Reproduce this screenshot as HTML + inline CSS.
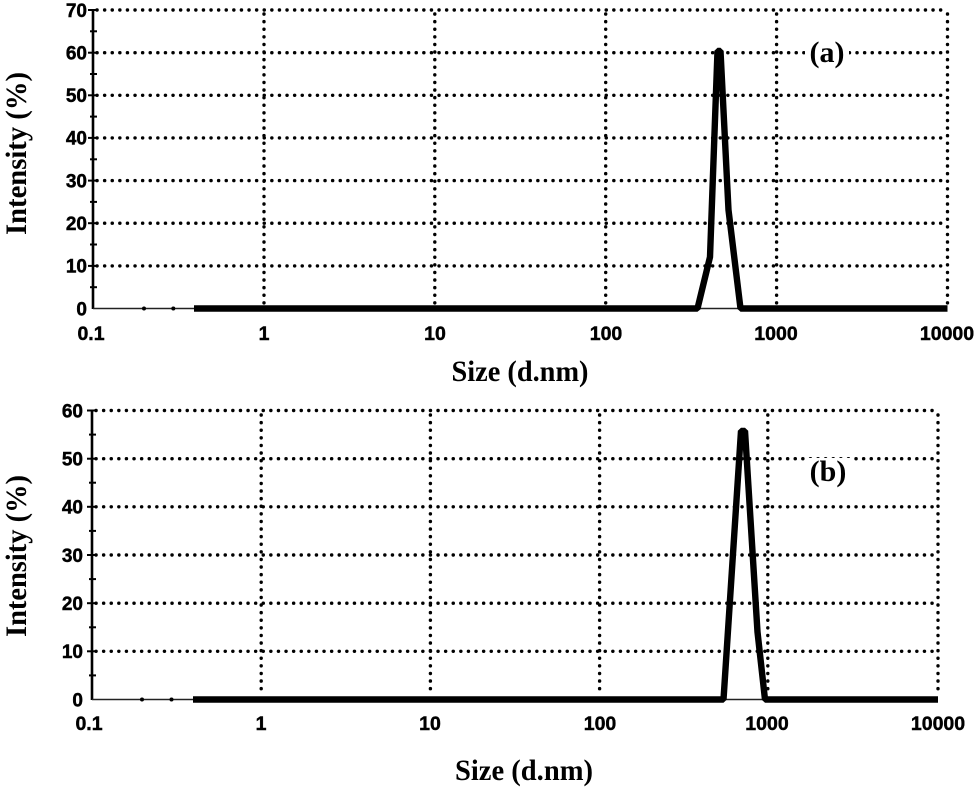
<!DOCTYPE html>
<html>
<head>
<meta charset="utf-8">
<style>
html,body{margin:0;padding:0;background:#fff;}
svg{display:block;}
.tk{font-family:"Liberation Sans",Arial,sans-serif;font-weight:bold;fill:#000;stroke:#000;stroke-width:0.45;}
.tt{font-family:"Liberation Serif","Times New Roman",serif;font-weight:bold;fill:#000;}
.grid{stroke:#000;stroke-width:3.4;stroke-linecap:round;stroke-dasharray:0.1 7.5;fill:none;}
</style>
</head>
<body>
<svg width="980" height="791" viewBox="0 0 980 791" xmlns="http://www.w3.org/2000/svg">
<rect width="980" height="791" fill="#fff"/>

<!-- ================= TOP CHART (a) ================= -->
<g>
  <g class="grid">
    <line x1="97" y1="10" x2="947.5" y2="10"/>
    <line x1="97" y1="52.7" x2="947.5" y2="52.7"/>
    <line x1="97" y1="95.3" x2="947.5" y2="95.3"/>
    <line x1="97" y1="137.9" x2="947.5" y2="137.9"/>
    <line x1="97" y1="180.6" x2="947.5" y2="180.6"/>
    <line x1="97" y1="223.2" x2="947.5" y2="223.2"/>
    <line x1="97" y1="265.9" x2="947.5" y2="265.9"/>
    <line x1="264" y1="14" x2="264" y2="305"/>
    <line x1="434.8" y1="14" x2="434.8" y2="305"/>
    <line x1="605.7" y1="14" x2="605.7" y2="305"/>
    <line x1="776.6" y1="14" x2="776.6" y2="305"/>
    <line x1="947.5" y1="14" x2="947.5" y2="305"/>
  </g>
  <line x1="93" y1="9" x2="93" y2="309" stroke="#000" stroke-width="2.6"/>
  <g stroke="#000" stroke-width="2">
    <line x1="88" y1="10" x2="97" y2="10"/>
    <line x1="88" y1="52.7" x2="97" y2="52.7"/>
    <line x1="88" y1="95.3" x2="97" y2="95.3"/>
    <line x1="88" y1="137.9" x2="97" y2="137.9"/>
    <line x1="88" y1="180.6" x2="97" y2="180.6"/>
    <line x1="88" y1="223.2" x2="97" y2="223.2"/>
    <line x1="88" y1="265.9" x2="97" y2="265.9"/>
    <line x1="90" y1="31.3" x2="97" y2="31.3"/>
    <line x1="90" y1="74" x2="97" y2="74"/>
    <line x1="90" y1="116.6" x2="97" y2="116.6"/>
    <line x1="90" y1="159.3" x2="97" y2="159.3"/>
    <line x1="90" y1="201.9" x2="97" y2="201.9"/>
    <line x1="90" y1="244.5" x2="97" y2="244.5"/>
    <line x1="90" y1="287.2" x2="97" y2="287.2"/>
  </g>
  <line x1="93" y1="308.5" x2="947.5" y2="308.5" stroke="#222" stroke-width="1.5"/>
  <circle cx="144" cy="308.5" r="2" fill="#000"/>
  <circle cx="173.3" cy="308.5" r="2" fill="#000"/>
  <polyline points="194,308.5 697.5,308.5 710,257 717.5,51 720.5,51 728.5,210 740.5,308.5 947.5,308.5"
    fill="none" stroke="#000" stroke-width="6.4" stroke-linejoin="bevel"/>
  <g class="tk" font-size="19" text-anchor="end">
    <text x="87" y="16.8">70</text>
    <text x="87" y="59.5">60</text>
    <text x="87" y="102.1">50</text>
    <text x="87" y="144.7">40</text>
    <text x="87" y="187.4">30</text>
    <text x="87" y="230">20</text>
    <text x="87" y="272.7">10</text>
    <text x="87" y="315.3">0</text>
  </g>
  <g class="tk" font-size="19.5" text-anchor="middle">
    <text x="91" y="340">0.1</text>
    <text x="264" y="340">1</text>
    <text x="435" y="340">10</text>
    <text x="606" y="340">100</text>
    <text x="776" y="340">1000</text>
    <text x="947" y="340">10000</text>
  </g>
  <text class="tt" x="520" y="381" font-size="30" text-anchor="middle" textLength="137" lengthAdjust="spacingAndGlyphs">Size (d.nm)</text>
  <text class="tt" font-size="30" text-anchor="middle" textLength="163" lengthAdjust="spacingAndGlyphs" transform="translate(26,153.5) rotate(-90)">Intensity (%)</text>
  <rect x="805" y="42" width="44" height="27" fill="#fff"/>
  <text class="tt" x="827" y="62" font-size="30" text-anchor="middle">(a)</text>
</g>

<!-- ================= BOTTOM CHART (b) ================= -->
<g>
  <g class="grid">
    <line x1="96" y1="410.5" x2="938" y2="410.5"/>
    <line x1="96" y1="458.7" x2="938" y2="458.7"/>
    <line x1="96" y1="506.8" x2="938" y2="506.8"/>
    <line x1="96" y1="555" x2="938" y2="555"/>
    <line x1="96" y1="603.2" x2="938" y2="603.2"/>
    <line x1="96" y1="651.3" x2="938" y2="651.3"/>
    <line x1="261.2" y1="415" x2="261.2" y2="696"/>
    <line x1="430.4" y1="415" x2="430.4" y2="696"/>
    <line x1="599.6" y1="415" x2="599.6" y2="696"/>
    <line x1="767.8" y1="415" x2="767.8" y2="696"/>
    <line x1="938" y1="415" x2="938" y2="696"/>
  </g>
  <line x1="92" y1="409.5" x2="92" y2="700" stroke="#000" stroke-width="2.6"/>
  <g stroke="#000" stroke-width="2">
    <line x1="87" y1="410.5" x2="96" y2="410.5"/>
    <line x1="87" y1="458.7" x2="96" y2="458.7"/>
    <line x1="87" y1="506.8" x2="96" y2="506.8"/>
    <line x1="87" y1="555" x2="96" y2="555"/>
    <line x1="87" y1="603.2" x2="96" y2="603.2"/>
    <line x1="87" y1="651.3" x2="96" y2="651.3"/>
    <line x1="89" y1="434.6" x2="96" y2="434.6"/>
    <line x1="89" y1="482.7" x2="96" y2="482.7"/>
    <line x1="89" y1="530.9" x2="96" y2="530.9"/>
    <line x1="89" y1="579.1" x2="96" y2="579.1"/>
    <line x1="89" y1="627.3" x2="96" y2="627.3"/>
    <line x1="89" y1="675.4" x2="96" y2="675.4"/>
  </g>
  <line x1="92" y1="699.5" x2="938" y2="699.5" stroke="#222" stroke-width="1.5"/>
  <circle cx="142" cy="699.5" r="2" fill="#000"/>
  <circle cx="171.5" cy="699.5" r="2" fill="#000"/>
  <polyline points="193,699.5 723.5,699.5 741,431 745,431 757.5,632 765,699.5 938,699.5"
    fill="none" stroke="#000" stroke-width="6.4" stroke-linejoin="bevel"/>
  <g class="tk" font-size="19" text-anchor="end">
    <text x="83" y="417.3">60</text>
    <text x="83" y="465.5">50</text>
    <text x="83" y="513.6">40</text>
    <text x="83" y="561.8">30</text>
    <text x="83" y="610">20</text>
    <text x="83" y="658.1">10</text>
    <text x="83" y="706.3">0</text>
  </g>
  <g class="tk" font-size="19.5" text-anchor="middle">
    <text x="89" y="730">0.1</text>
    <text x="261" y="730">1</text>
    <text x="430" y="730">10</text>
    <text x="600" y="730">100</text>
    <text x="767" y="730">1000</text>
    <text x="938" y="730">10000</text>
  </g>
  <text class="tt" x="524" y="780" font-size="30" text-anchor="middle" textLength="138" lengthAdjust="spacingAndGlyphs">Size (d.nm)</text>
  <text class="tt" font-size="30" text-anchor="middle" textLength="162" lengthAdjust="spacingAndGlyphs" transform="translate(26,556) rotate(-90)">Intensity (%)</text>
  <rect x="805" y="458" width="46" height="31" fill="#fff"/>
  <text class="tt" x="828" y="481" font-size="30" text-anchor="middle">(b)</text>
</g>
</svg>
</body>
</html>
